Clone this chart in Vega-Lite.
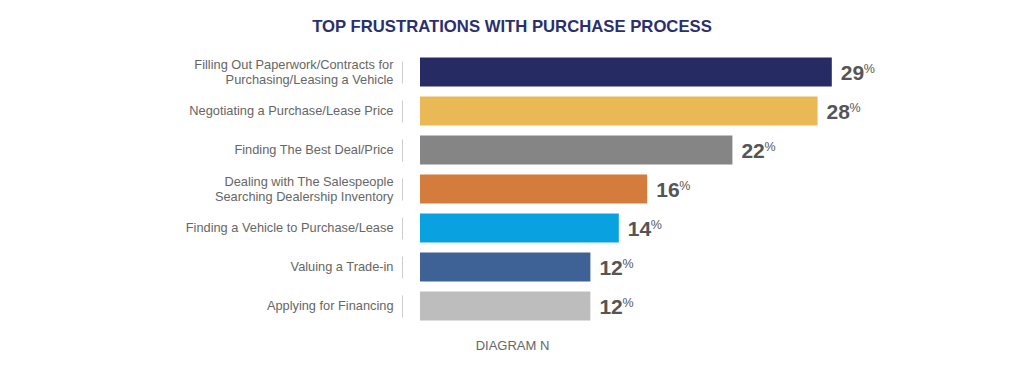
{
  "$schema": "https://vega.github.io/schema/vega-lite/v6.json",
  "autosize": "none",
  "width": 426,
  "height": 273,
  "padding": {"left": 420, "top": 52.5, "right": 178, "bottom": 49.5},
  "background": "white",
  "title": {
    "text": "TOP FRUSTRATIONS WITH PURCHASE PROCESS",
    "anchor": "middle",
    "dx": -121,
    "fontSize": 16.7,
    "fontWeight": "bold",
    "font": "Liberation Sans",
    "color": "#2b2f6e",
    "offset": 17
  },
  "config": {"view": {"stroke": null}},
  "data": {
    "values": [
      {"label": "Filling Out Paperwork/Contracts for|Purchasing/Leasing a Vehicle", "pct": 29, "color": "#262b64"},
      {"label": "Negotiating a Purchase/Lease Price", "pct": 28, "color": "#e9b955"},
      {"label": "Finding The Best Deal/Price", "pct": 22, "color": "#858585"},
      {"label": "Dealing with The Salespeople|Searching Dealership Inventory", "pct": 16, "color": "#d47c3b"},
      {"label": "Finding a Vehicle to Purchase/Lease", "pct": 14, "color": "#0aa1e0"},
      {"label": "Valuing a Trade-in", "pct": 12, "color": "#3e6196"},
      {"label": "Applying for Financing", "pct": 12, "color": "#bdbdbd"}
    ]
  },
  "encoding": {
    "y": {
      "field": "label",
      "type": "nominal",
      "sort": null,
      "scale": {"paddingInner": 0.26, "paddingOuter": 0.13},
      "axis": {
        "title": null,
        "offset": 18,
        "ticks": false,
        "labelPadding": 9,
        "labelExpr": "split(datum.label, '|')",
        "labelOffset": {"condition": {"test": "indexof(datum.value, '|') >= 0", "value": -7.5}, "value": 0},
        "labelFont": "Liberation Sans",
        "labelFontSize": 12.8,
        "labelColor": "#666666",
        "labelLineHeight": 15,
        "labelLimit": 300,
        "domainColor": "#cccccc",
        "domainWidth": 1,
        "domainDash": [22, 17],
        "domainDashOffset": 30.5
      }
    },
    "x": {
      "field": "pct",
      "type": "quantitative",
      "scale": {"domain": [0, 30]},
      "axis": {
        "title": "DIAGRAM N",
        "labels": false,
        "ticks": false,
        "domain": false,
        "grid": false,
        "titleX": 92,
        "titleY": 23.5,
        "titleBaseline": "alphabetic",
        "titleAlign": "center",
        "titleFont": "Liberation Sans",
        "titleFontSize": 13,
        "titleFontWeight": "normal",
        "titleColor": "#666666"
      }
    }
  },
  "layer": [
    {
      "mark": {"type": "bar"},
      "encoding": {"color": {"field": "color", "type": "nominal", "scale": null}}
    },
    {
      "mark": {"type": "text", "align": "left", "baseline": "alphabetic", "dx": 9, "dy": 8, "font": "Liberation Sans", "fontSize": 21, "fontWeight": "bold", "color": "#555555"},
      "encoding": {"text": {"field": "pct", "type": "quantitative"}}
    },
    {
      "mark": {"type": "text", "align": "left", "baseline": "alphabetic", "dx": 32, "dy": 1, "font": "Liberation Sans", "fontSize": 12.5, "fontWeight": "normal", "color": "#555555"},
      "encoding": {"text": {"value": "%"}}
    }
  ]
}
